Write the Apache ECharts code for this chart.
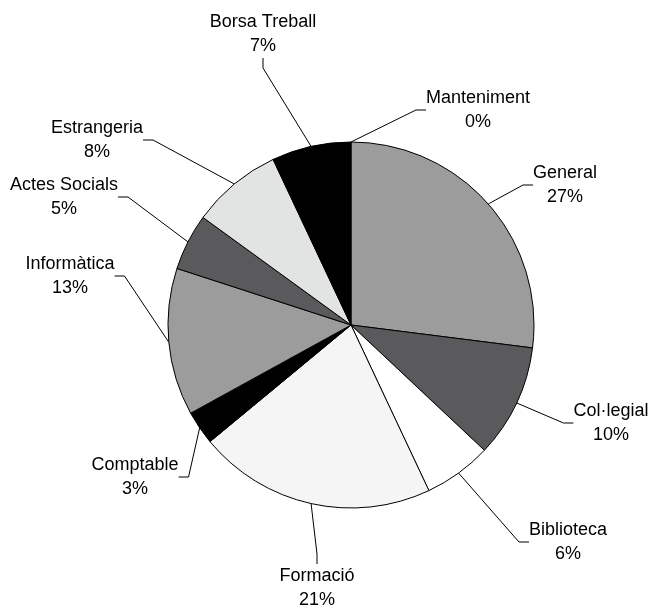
<!DOCTYPE html>
<html>
<head>
<meta charset="utf-8">
<script src="https://cdn.jsdelivr.net/npm/echarts@6/dist/echarts.min.js"></script>
<style>
  html, body { margin: 0; padding: 0; background: #fff; }
  #chart { width: 651px; height: 605px; }
</style>
</head>
<body>
<div id="chart"></div>
<script>
// categories, clockwise from 12 o'clock
const categories = ['Manteniment', 'General', 'Col·legial', 'Biblioteca', 'Formació',
  'Comptable', 'Informàtica', 'Actes Socials', 'Estrangeria', 'Borsa Treball']
// percentages
const shares = [0, 27, 10, 6, 21, 3, 13, 5, 8, 7]
const sliceColors = ['#9c9c9c', '#9c9c9c', '#5a5a5c', '#ffffff', '#f5f5f5',
  '#000000', '#9c9c9c', '#5a5a5c', '#e2e3e3', '#000000']
// where each label block sits (center of the two text lines)
const labelCenters = [[478, 110], [565, 185], [611, 423], [568, 542], [317, 588],
  [135, 477], [70, 276], [64, 197], [97, 140], [263, 34]]

const chart = echarts.init(document.getElementById('chart'))

chart.setOption({
  backgroundColor: '#fff',
  animation: false,
  series: [
    {
      type: 'pie',
      center: [351, 325],
      radius: 183,
      startAngle: 90,
      clockwise: true,
      avoidLabelOverlap: false,
      percentPrecision: 0,
      data: categories.map((name, i) => ({
        name: name,
        value: shares[i],
        itemStyle: { color: sliceColors[i] }
      })),
      itemStyle: {
        borderColor: '#000',
        borderWidth: 1
      },
      label: {
        show: true,
        formatter: '{b}\n{d}%',
        color: '#000',
        fontFamily: '"Liberation Sans", Arial, sans-serif',
        fontSize: 18,
        lineHeight: 24
      },
      labelLine: {
        show: true,
        length: 20,
        length2: 10,
        lineStyle: { color: '#000', width: 1 }
      },
      labelLayout: function (params) {
        const p = labelCenters[params.dataIndex]
        return { x: p[0], y: p[1], align: 'center', verticalAlign: 'middle' }
      },
      emphasis: { disabled: true }
    }
  ]
})

window.addEventListener('resize', () => { chart.resize() })
</script>
</body>
</html>
